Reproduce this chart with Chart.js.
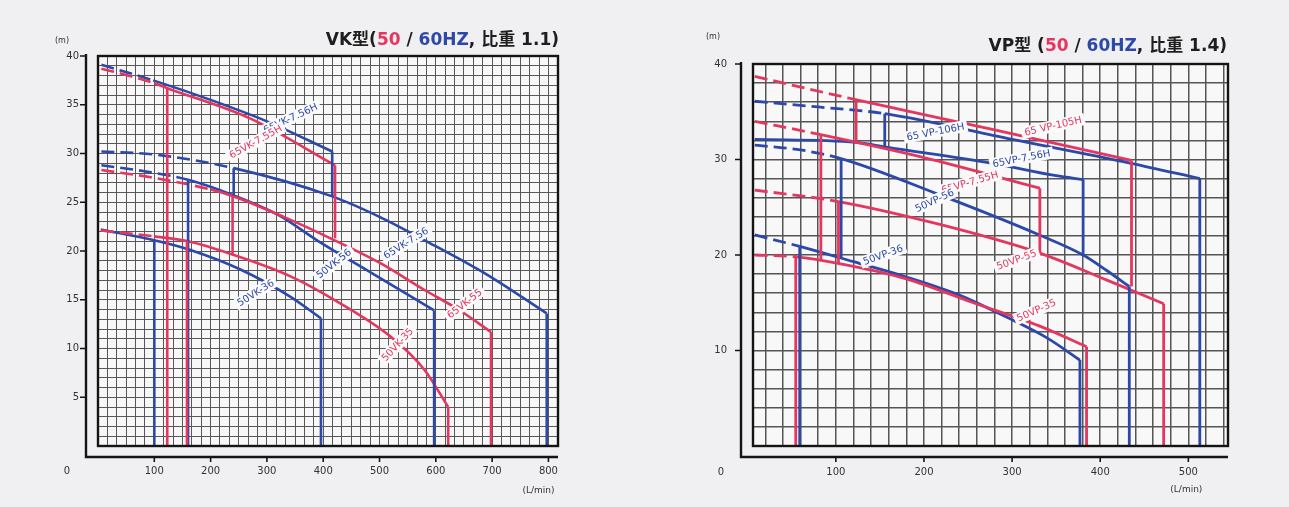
<!DOCTYPE html>
<html lang="zh-Hant">
<head>
<meta charset="utf-8">
<title>VK / VP pump curves</title>
<script src="https://cdn.jsdelivr.net/npm/chart.js@4.4.1/dist/chart.umd.min.js"></script>
<style>
  html, body { margin:0; padding:0; width:1289px; height:507px; overflow:hidden; background:#f0f0f2; }
  .panel { position:absolute; top:0; height:507px; }
  #vkPanel { left:0; width:640px; }
  #vpPanel { left:640px; width:649px; }
  .title { position:absolute; font-family:"DejaVu Sans","Noto Sans CJK TC",sans-serif; font-weight:bold; font-size:17px; line-height:20px; color:#1e1e1e; white-space:nowrap; }
  #vkTitle { right:730px; top:29px; }
  #vpTitle { right:62px; top:35px; }
  .hz50 { color:#e4375f; } .hz60 { color:#2c48a8; }
</style>
</head>
<body>
<div class="panel" id="vkPanel"><canvas id="vkChart"></canvas></div>
<div class="panel" id="vpPanel"><canvas id="vpChart"></canvas></div>
<div class="title" id="vkTitle">VK型(<span class="hz50">50</span> / <span class="hz60">60HZ</span>, 比重 1.1)</div>
<div class="title" id="vpTitle">VP型 (<span class="hz50">50</span> / <span class="hz60">60HZ</span>, 比重 1.4)</div>
<script>
// ================= VK panel (flow L/min, head m) =================
const vkTickQ = [100, 200, 300, 400, 500, 600, 700, 800];
const vkTickH = [5, 10, 15, 20, 25, 30, 35, 40];

const vkCurveNames = ['65VK-7.56H', '65VK-7.55H', '65VK-7.56', '50VK-56', '65VK-55', '50VK-36', '50VK-35'];
const vkCurveHz    = [60, 50, 60, 60, 50, 60, 50];
const vkDashEnd    = [98, 100, 241, 160, 200, 0, 100];

const vkQ_65VK756H = [6, 98, 200, 300, 416];
const vkH_65VK756H = [39.1, 37.5, 35.5, 33.3, 30.2];
const vkQ_65VK755H = [6, 60, 100, 123, 270, 421];
const vkH_65VK755H = [38.7, 37.9, 37.2, 36.7, 33.6, 28.8];
const vkQ_65VK756  = [6, 100, 241, 416, 500, 580, 690, 797];
const vkH_65VK756  = [30.2, 29.9, 28.5, 25.6, 23.5, 21.1, 17.6, 13.6];
const vkQ_50VK56   = [6, 80, 160, 241, 320, 389, 490, 597];
const vkH_50VK56   = [28.8, 28.2, 27.3, 25.7, 23.7, 21.1, 17.6, 13.9];
const vkQ_65VK55   = [6, 100, 200, 241, 330, 413, 500, 580, 640, 698];
const vkH_65VK55   = [28.3, 27.5, 26.3, 25.6, 23.5, 21.3, 18.8, 16.0, 14.0, 11.7];
const vkQ_50VK36   = [5, 100, 164, 253, 342, 396];
const vkH_50VK36   = [22.2, 21.1, 20.1, 18.1, 15.3, 13.1];
const vkQ_50VK35   = [5, 100, 160, 241, 342, 431, 520, 580, 622];
const vkH_50VK35   = [22.1, 21.5, 21.0, 19.6, 17.4, 14.6, 11.2, 7.8, 4.0];

// operating-range limit lines (vertical)
const vkLimitQ      = [100, 123, 160, 158, 241, 239, 416, 421, 396, 597, 622, 698, 797];
const vkLimitTop    = [21.1, 36.7, 27.3, 21.0, 28.5, 25.6, 30.2, 28.8, 13.1, 13.9, 4.0, 11.7, 13.6];
const vkLimitBottom = [0, 0, 0, 0, 25.7, 19.6, 25.6, 21.3, 0, 0, 0, 0, 0];
const vkLimitHz     = [60, 50, 60, 50, 60, 50, 60, 50, 60, 60, 50, 50, 60];

// curve label annotations (data coordinates)
const vkLabelText  = ['65VK-7.56H', '65VK-7.55H', '65VK-7.56', '50VK-56', '65VK-55', '50VK-35', '50VK-36'];
const vkLabelHz    = [60, 50, 60, 60, 50, 50, 60];
const vkLabelQ     = [342, 280, 547, 419, 651, 532, 280];
const vkLabelH     = [33.6, 31.2, 20.8, 18.7, 14.6, 10.4, 15.7];
const vkLabelAngle = [25, 29, 32, 38, 38, 47, 32];

// ================= VP panel =================
const vpTickQ = [100, 200, 300, 400, 500];
const vpTickH = [10, 20, 30, 40];

const vpCurveNames = ['65 VP-105H', '65 VP-106H', '65VP-7.56H', '65VP-7.55H', '50VP-56', '50VP-55', '50VP-36', '50VP-35'];
const vpCurveHz    = [50, 60, 60, 50, 60, 50, 60, 50];
const vpDashEnd    = [116, 155.5, 0, 83, 106, 103, 59, 54.5];

const vpQ_65VP105H = [8, 116, 275, 435.5];
const vpH_65VP105H = [38.7, 36.4, 33.2, 29.9];
const vpQ_65VP106H = [8, 80, 155.5, 300, 435, 513];
const vpH_65VP106H = [36.1, 35.5, 34.8, 32.1, 29.6, 28.0];
const vpQ_65VP756H = [8, 123, 157, 278, 350, 380.6];
const vpH_65VP756H = [32.1, 31.8, 31.3, 29.6, 28.3, 27.9];
const vpQ_65VP755H = [8, 83, 200, 331.5];
const vpH_65VP755H = [34.0, 32.6, 30.2, 27.0];
const vpQ_50VP56   = [8, 60, 106, 218, 331, 380.6, 407, 433];
const vpH_50VP56   = [31.5, 31.0, 30.1, 26.3, 22.1, 20.0, 18.4, 16.7];
const vpQ_50VP55   = [8, 103, 218, 331.5, 407, 472];
const vpH_50VP55   = [26.8, 25.6, 23.2, 20.2, 17.4, 14.9];
const vpQ_50VP36   = [8, 59, 120, 180, 240, 293.6, 340, 377];
const vpH_50VP36   = [22.1, 20.9, 19.3, 17.7, 15.8, 13.5, 11.3, 9.0];
const vpQ_50VP35   = [8, 54.5, 104, 180, 256, 330, 384.5];
const vpH_50VP35   = [20.0, 19.8, 19.1, 17.5, 15.0, 12.6, 10.4];

const vpLimitQ      = [54.5, 59, 83, 106, 103, 123, 155.5, 331.5, 380.6, 377, 384.5, 435.5, 433, 472, 513];
const vpLimitTop    = [20.0, 20.9, 32.6, 30.1, 25.6, 36.1, 34.8, 27.0, 27.9, 9.0, 10.4, 29.9, 16.7, 14.9, 28.0];
const vpLimitBottom = [0, 0, 19.5, 19.7, 19.1, 31.8, 31.3, 20.2, 20.0, 0, 0, 16.7, 0, 0, 0];
const vpLimitHz     = [50, 60, 50, 60, 50, 50, 60, 50, 60, 60, 50, 50, 60, 50, 60];

const vpLabelText  = ['65 VP-105H', '65 VP-106H', '65VP-7.56H', '65VP-7.55H', '50VP-56', '50VP-55', '50VP-36', '50VP-35'];
const vpLabelHz    = [50, 60, 60, 50, 60, 50, 60, 50];
const vpLabelQ     = [346.5, 213, 310.6, 252, 212, 305, 153.6, 327.6];
const vpLabelH     = [33.5, 32.9, 30.1, 27.6, 25.7, 19.5, 20.0, 14.2];
const vpLabelAngle = [13, 11, 11, 16, 25, 20, 20, 24];

// ================= drawing =================
const RED = '#e4375f', BLUE = '#2c48a8';
const hzColor = hz => (hz === 50 ? RED : BLUE);
const near = (a, b) => Math.abs(a - b) < 1e-6;
Chart.defaults.font.family = '"DejaVu Sans", "Liberation Sans", sans-serif';

function curveSets(qs, hs, hzs, dashEnds, lw) {
  return qs.map((q, i) => ({
    label: 'c' + i,
    data: q.map((x, k) => ({ x, y: hs[i][k] })),
    borderColor: hzColor(hzs[i]), borderWidth: lw,
    pointRadius: 0, pointHoverRadius: 0, fill: false,
    borderJoinStyle: 'round',
    cubicInterpolationMode: 'monotone',
    segment: { borderDash: ctx => (ctx.p1.parsed.x <= dashEnds[i] + 1e-9 ? [13, 6] : undefined) }
  }));
}
function limitSets(q, top, bottom, hz, lw) {
  return q.map((x, i) => ({
    label: 'l' + i,
    data: [{ x, y: top[i] }, { x, y: bottom[i] }],
    borderColor: hzColor(hz[i]), borderWidth: lw, pointRadius: 0, pointHoverRadius: 0, fill: false, tension: 0
  }));
}
function gridTicks(min, max, num, den) {
  const t = [{ value: min }];
  for (let k = 0; k * num / den < max - 1e-6; k++) {
    const v = k * num / den;
    if (v > min + 1e-6) t.push({ value: v });
  }
  t.push({ value: max });
  return t;
}
function makeDecor(s) {
  return {
    id: 'pumpDecor',
    beforeDraw(chart) {
      const { ctx, chartArea: a } = chart;
      ctx.save();
      ctx.fillStyle = '#f8f8f9';
      ctx.fillRect(a.left, a.top, a.right - a.left, a.bottom - a.top);
      ctx.restore();
    },
    afterDatasetsDraw(chart) {
      const { ctx, scales: { x, y } } = chart;
      ctx.save();
      ctx.font = s.labelFont;
      s.labels.text.forEach((t, i) => {
        const px = x.getPixelForValue(s.labels.q[i]);
        const py = y.getPixelForValue(s.labels.h[i]);
        ctx.save();
        ctx.translate(px, py);
        ctx.rotate(-s.labels.angle[i] * Math.PI / 180);
        const w = ctx.measureText(t).width;
        ctx.fillStyle = '#fbfbfc';
        ctx.fillRect(-w / 2 - 3, -6, w + 6, 12);
        ctx.fillStyle = hzColor(s.labels.hz[i]);
        ctx.textAlign = 'center';
        ctx.textBaseline = 'middle';
        ctx.fillText(t, 0, 0.5);
        ctx.restore();
      });
      ctx.restore();
    },
    afterDraw(chart) {
      const { ctx, chartArea: a, scales: { x, y } } = chart;
      ctx.save();
      ctx.strokeStyle = '#141414';
      ctx.lineWidth = 2.4;
      ctx.strokeRect(a.left, a.top, a.right - a.left, a.bottom - a.top);
      const ax = a.left - 12, ay = a.bottom + 11;
      ctx.beginPath();
      ctx.moveTo(ax, y.getPixelForValue(y.max) - 2);
      ctx.lineTo(ax, ay);
      ctx.lineTo(a.right, ay);
      ctx.stroke();
      ctx.lineWidth = 1.6;
      ctx.beginPath();
      s.tickH.forEach(v => { const py = y.getPixelForValue(v); ctx.moveTo(ax - 6, py); ctx.lineTo(ax, py); });
      s.tickQ.forEach(v => { const px = x.getPixelForValue(v); ctx.moveTo(px, ay); ctx.lineTo(px, ay + 5); });
      ctx.stroke();
      ctx.fillStyle = '#333';
      ctx.textAlign = 'center';
      ctx.textBaseline = 'middle';
      ctx.font = '10px "DejaVu Sans"';
      ctx.fillText('0', ax + s.zeroDx, ay + s.zeroDy);
      ctx.font = '8px "DejaVu Sans"';
      ctx.fillText('(m)', ax + s.mDx, s.mY);
      ctx.font = '9px "DejaVu Sans"';
      ctx.fillText('(L/min)', x.getPixelForValue(s.tickQ[s.tickQ.length - 1]) + s.unitDx, s.unitY);
      ctx.restore();
    }
  };
}
function makeChart(id, c) {
  const sets = c.datasets.map((d, i) => ({ ...d, order: -i }));
  return new Chart(document.getElementById(id), {
    type: 'line',
    data: { datasets: sets },
    options: {
      responsive: true, maintainAspectRatio: false, animation: false, events: [],
      layout: { padding: c.padding },
      plugins: { legend: { display: false }, tooltip: { enabled: false } },
      scales: {
        x: {
          type: 'linear', min: c.xMin, max: c.xMax,
          afterBuildTicks: sc => { sc.ticks = gridTicks(c.xMin, c.xMax, c.xNum, c.xDen); },
          afterFit: sc => { sc.height = c.xAxisH; },
          ticks: {
            autoSkip: false, maxRotation: 0, minRotation: 0, padding: c.xPad, color: '#333',
            font: { size: 10 },
            callback: v => (c.tickQ.some(t => near(t, v)) ? String(Math.round(v)) : '')
          },
          grid: { color: c.gridColor, lineWidth: c.gridW, drawTicks: false },
          border: { display: false }
        },
        y: {
          type: 'linear', min: 0, max: 40,
          afterBuildTicks: sc => { sc.ticks = gridTicks(0, 40, c.yNum, 1); },
          afterFit: sc => { sc.width = c.yAxisW; },
          ticks: {
            autoSkip: false, padding: c.yPad, color: '#333', font: { size: 10 },
            callback: v => (c.tickH.some(t => near(t, v)) ? String(Math.round(v)) : '')
          },
          grid: { color: c.gridColor, lineWidth: c.gridW, drawTicks: false },
          border: { display: false }
        }
      }
    },
    plugins: [makeDecor(c.decor)]
  });
}

const LW1 = 2.6, LW2 = 2.8;
makeChart('vkChart', {
  datasets: [
    ...curveSets(
      [vkQ_65VK756H, vkQ_65VK755H, vkQ_65VK756, vkQ_50VK56, vkQ_65VK55, vkQ_50VK36, vkQ_50VK35],
      [vkH_65VK756H, vkH_65VK755H, vkH_65VK756, vkH_50VK56, vkH_65VK55, vkH_50VK36, vkH_50VK35],
      vkCurveHz, vkDashEnd, LW1),
    ...limitSets(vkLimitQ, vkLimitTop, vkLimitBottom, vkLimitHz, LW1)
  ],
  padding: { left: 0, top: 56, right: 82, bottom: 0 },
  xMin: 0, xMax: 817, xNum: 100, xDen: 6, yNum: 1,
  xAxisH: 61, yAxisW: 98, xPad: 19, yPad: 19,
  gridColor: '#585858', gridW: 1,
  tickQ: vkTickQ, tickH: vkTickH,
  decor: {
    tickQ: vkTickQ, tickH: vkTickH, labelFont: '10px "DejaVu Sans"',
    labels: { text: vkLabelText, hz: vkLabelHz, q: vkLabelQ, h: vkLabelH, angle: vkLabelAngle },
    zeroDx: -19, zeroDy: 14, mDx: -24, mY: 41, unitDx: -10, unitY: 491
  }
});
makeChart('vpChart', {
  datasets: [
    ...curveSets(
      [vpQ_65VP105H, vpQ_65VP106H, vpQ_65VP756H, vpQ_65VP755H, vpQ_50VP56, vpQ_50VP55, vpQ_50VP36, vpQ_50VP35],
      [vpH_65VP105H, vpH_65VP106H, vpH_65VP756H, vpH_65VP755H, vpH_50VP56, vpH_50VP55, vpH_50VP36, vpH_50VP35],
      vpCurveHz, vpDashEnd, LW2),
    ...limitSets(vpLimitQ, vpLimitTop, vpLimitBottom, vpLimitHz, LW2)
  ],
  padding: { left: 0, top: 64, right: 61, bottom: 0 },
  xMin: 6, xMax: 545, xNum: 20, xDen: 1, yNum: 2,
  xAxisH: 61, yAxisW: 113, xPad: 20, yPad: 26,
  gridColor: '#555555', gridW: 1.5,
  tickQ: vpTickQ, tickH: vpTickH,
  decor: {
    tickQ: vpTickQ, tickH: vpTickH, labelFont: '10px "DejaVu Sans"',
    labels: { text: vpLabelText, hz: vpLabelHz, q: vpLabelQ, h: vpLabelH, angle: vpLabelAngle },
    zeroDx: -20, zeroDy: 15, mDx: -28, mY: 37, unitDx: -2, unitY: 490
  }
});
</script>
</body>
</html>
